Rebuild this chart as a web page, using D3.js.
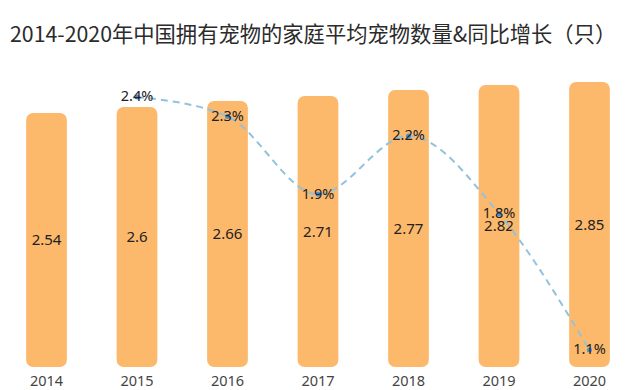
<!DOCTYPE html>
<html><head><meta charset="utf-8">
<script src="https://cdn.jsdelivr.net/npm/d3@7"></script>
<style>body{margin:0;background:#fff;}svg{display:block;}</style>
</head><body>
<svg id="c" width="640" height="390"></svg>
<script>
const years = ["2014","2015","2016","2017","2018","2019","2020"];
const avgPets = [2.54, 2.6, 2.66, 2.71, 2.77, 2.82, 2.85];
const growthYears = ["2015","2016","2017","2018","2019","2020"];
const growth = [2.4, 2.3, 1.9, 2.2, 1.8, 1.1];
const title = "2014-2020年中国拥有宠物的家庭平均宠物数量&同比增长（只）";

const svg = d3.select("#c");
const font = "'Noto Sans CJK SC','Noto Sans',sans-serif";
const numFont = "'Noto Sans',sans-serif";

svg.append("text").attr("x", 10).attr("y", 42)
  .attr("font-family", font).attr("font-size", 21.3).attr("fill", "#2b2b2b")
  .text(title);

const x = d3.scaleBand().domain(years).range([-1, 637]).paddingInner(0.55).paddingOuter(0.3);
const y = d3.scaleLinear().domain([0, 3]).range([367, 67]);
const y2 = d3.scaleLinear().domain([0, 2.4]).range([564, 97]);

// bars
svg.append("g").selectAll("rect").data(avgPets).join("rect")
  .attr("x", (d,i) => x(years[i]))
  .attr("y", d => y(d))
  .attr("width", x.bandwidth())
  .attr("height", d => y(0) - y(d))
  .attr("rx", 7).attr("fill", "#fcb96b");

// bar value labels
svg.append("g").selectAll("text").data(avgPets).join("text")
  .attr("x", (d,i) => x(years[i]) + x.bandwidth()/2)
  .attr("y", d => (y(d) + y(0))/2)
  .attr("dy", "0.36em")
  .attr("text-anchor", "middle")
  .attr("font-family", numFont).attr("font-size", 15).attr("fill", "#222")
  .text(d => String(d));

// x axis labels
const xAxis = d3.axisBottom(x).tickSize(0).tickPadding(0);
const ax = svg.append("g").call(xAxis);
ax.select(".domain").remove();
ax.selectAll("text").attr("y", 385.5).attr("dy", null)
  .attr("font-family", numFont).attr("font-size", 14.5).attr("fill", "#444");

// growth line
const cx = (yr) => x(yr) + x.bandwidth()/2;
const line = d3.line().x((d,i) => cx(growthYears[i])).y(d => y2(d)).curve(d3.curveMonotoneX);
svg.append("path").datum(growth).attr("d", line)
  .attr("fill", "none").attr("stroke", "#93c2dc").attr("stroke-width", 2)
  .attr("stroke-dasharray", "7,5");

svg.append("g").selectAll("circle").data(growth).join("circle")
  .attr("cx", (d,i) => cx(growthYears[i])).attr("cy", d => y2(d))
  .attr("r", 2.5).attr("fill", "#4a8fd6");

svg.append("g").selectAll("text").data(growth).join("text")
  .attr("x", (d,i) => cx(growthYears[i])).attr("y", d => y2(d))
  .attr("dy", "0.3em").attr("text-anchor", "middle")
  .attr("font-family", numFont).attr("font-size", 14.5).attr("fill", "#222")
  .text(d => d.toFixed(1) + "%");
</script>
</body></html>
